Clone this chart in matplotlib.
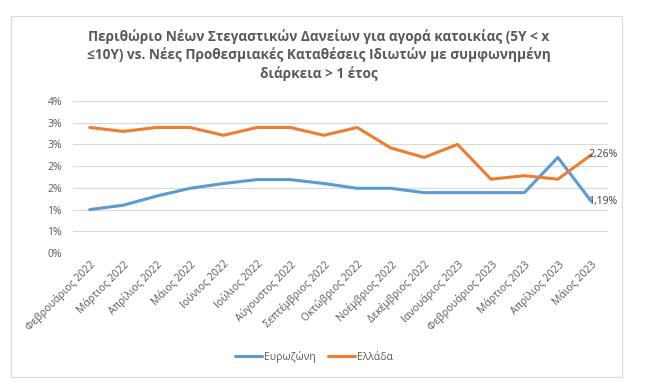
import matplotlib
matplotlib.use("Agg")
import matplotlib.pyplot as plt
from matplotlib.ticker import FuncFormatter, MultipleLocator
from matplotlib.patches import Rectangle

plt.rcParams['font.family'] = ['Open Sans', 'DejaVu Sans']

# data (%)
months = ['Φεβρουάριος 2022', 'Μάρτιος 2022', 'Απρίλιος 2022', 'Μάιος 2022',
          'Ιούνιος 2022', 'Ιούλιος 2022', 'Αύγουστος 2022', 'Σεπτέμβριος 2022',
          'Οκτώβριος 2022', 'Νοέμβριος 2022', 'Δεκέμβριος 2022', 'Ιανουάριος 2023',
          'Φεβρουάριος 2023', 'Μάρτιος 2023', 'Απρίλιος 2023', 'Μάιος 2023']
eurozone = [1.00, 1.10, 1.31, 1.49, 1.60, 1.69, 1.69, 1.60,
            1.49, 1.49, 1.39, 1.39, 1.39, 1.39, 2.20, 1.19]
greece = [2.89, 2.80, 2.89, 2.89, 2.71, 2.89, 2.89, 2.71,
          2.89, 2.42, 2.20, 2.50, 1.70, 1.78, 1.70, 2.26]

title = ('Περιθώριο Νέων Στεγαστικών Δανείων για αγορά κατοικίας (5Y < x\n'
         '≤10Y) vs. Νέες Προθεσμιακές Καταθέσεις Ιδιωτών με συμφωνημένη\n'
         'διάρκεια > 1 έτος')

blue = '#5B9BD5'
orange = '#ED7D31'
txt = '#595959'

fig = plt.figure(figsize=(6.46, 3.91), dpi=100)
ax = fig.add_axes([73/646, 138/391, 535/646, 152/391])

x = list(range(len(months)))
ax.plot(x, eurozone, color=blue, lw=2.2, label='Ευρωζώνη', solid_capstyle='round')
ax.plot(x, greece, color=orange, lw=2.2, label='Ελλάδα', solid_capstyle='round')

ax.set_xlim(-0.5, len(months) - 0.5)
ax.set_ylim(0, 3.5)
ax.yaxis.set_major_locator(MultipleLocator(0.5))
ax.yaxis.set_major_formatter(FuncFormatter(lambda v, p: '%d%%' % int(v + 0.5 + 1e-9)))
ax.grid(axis='y', color='#D9D9D9', lw=0.8)
ax.set_axisbelow(True)
for s in ax.spines.values():
    s.set_visible(False)
ax.tick_params(length=0, colors=txt, labelsize=7.5)
ax.tick_params(axis='y', pad=8)
ax.set_xticks(x)
ax.set_xticklabels(months, rotation=45, ha='right', rotation_mode='anchor')
ax.tick_params(axis='x', pad=4)

# data labels for last point
for series in (greece, eurozone):
    v = series[-1]
    ax.annotate(('%.2f%%' % v).replace('.', ','), (x[-1], v), xytext=(-2, 0),
                textcoords='offset points', ha='left', va='center',
                fontsize=7.5, color='#404040')

fig.text(0.494, 1 - 55/391, title, ha='center', va='center', fontsize=9.8,
         fontweight='bold', color=txt, linespacing=1.3)

fig.legend(loc='center', bbox_to_anchor=(314/646, 1 - 357/391), ncol=2,
           frameon=False, fontsize=7.5, handlelength=2.6, handletextpad=0.2,
           columnspacing=1.1, labelcolor=txt)

fig.patches.append(Rectangle((11/646, 1 - 377/391), 611/646, 361/391,
                             transform=fig.transFigure, fill=False,
                             edgecolor='#D9D9D9', lw=0.8))

fig.savefig('out.png', dpi=100)
